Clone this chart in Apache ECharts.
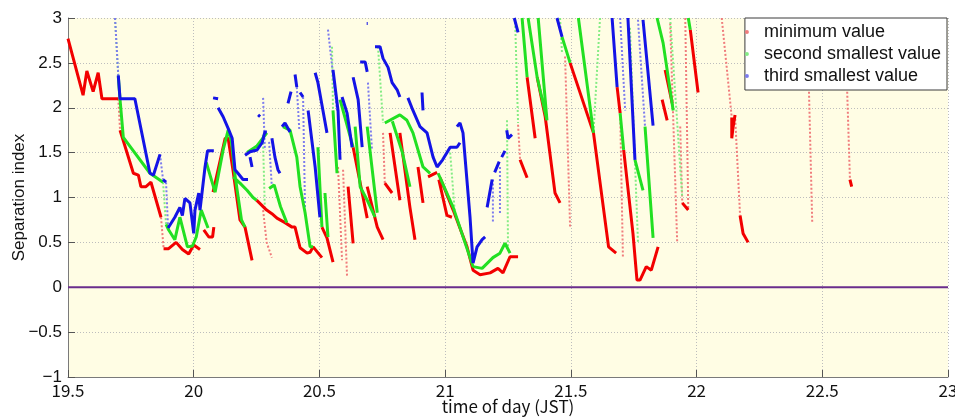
<!DOCTYPE html>
<html>
<head>
<meta charset="utf-8">
<script src="https://cdn.jsdelivr.net/npm/echarts@6/dist/echarts.min.js"></script>
<style>
  html, body { margin: 0; padding: 0; background: #fff; }
  #chart { width: 955px; height: 418px; }
</style>
</head>
<body>
<div id="chart"></div>
<script>
// x: time of day (JST), y: separation index
const seriesNames = ['minimum value', 'second smallest value', 'third smallest value']
const xTicks = [19.5, 20, 20.5, 21, 21.5, 22, 22.5, 23]
const yTicks = [-1, -0.5, 0, 0.5, 1, 1.5, 2, 2.5, 3]
const zeroLine = [[19.5, 0], [23, 0]]

/* minimum value: dense parts */
const minLines = [
  [[19.50, 2.77], [19.56, 2.14], [19.575, 2.41], [19.60, 2.18], [19.62, 2.39], [19.635, 2.10], [19.70, 2.10]],
  [[19.707, 1.75], [19.76, 1.27], [19.78, 1.25], [19.79, 1.12], [19.81, 1.12], [19.83, 1.17], [19.87, 0.78]],
  [[19.88, 0.43], [19.90, 0.43], [19.93, 0.50], [19.955, 0.42], [19.98, 0.37], [20.0, 0.47], [20.025, 0.42]],
  [[20.04, 0.64], [20.06, 0.56], [20.075, 0.56], [20.08, 0.67]],
  [[20.077, 1.06], [20.125, 1.66], [20.137, 1.66], [20.156, 1.31], [20.184, 0.75], [20.204, 0.67], [20.232, 0.30]],
  [[20.25, 0.97], [20.29, 0.86], [20.311, 0.82], [20.331, 0.77], [20.363, 0.72], [20.391, 0.67], [20.403, 0.67],
   [20.423, 0.44], [20.451, 0.38], [20.463, 0.39], [20.475, 0.45], [20.51, 0.33]],
  [[20.51, 0.67], [20.53, 0.55], [20.554, 0.28]],
  [[20.614, 1.12], [20.634, 0.49]],
  [[20.634, 1.56], [20.67, 1.05], [20.69, 0.77]],
  [[20.69, 1.12], [20.73, 0.67], [20.753, 0.53]],
  [[20.76, 1.16], [20.789, 1.05]],
  [[20.781, 1.72], [20.82, 0.97]],
  [[20.82, 1.72], [20.86, 0.89], [20.88, 0.53]],
  [[20.892, 1.34], [20.912, 0.94]],
  [[20.932, 1.23], [20.968, 1.28]],
  [[20.975, 1.20], [20.995, 0.95], [21.007, 0.80], [21.027, 0.78]],
  [[20.98, 1.22], [21.032, 0.86], [21.087, 0.45], [21.111, 0.19], [21.139, 0.14], [21.179, 0.16],
   [21.21, 0.21], [21.23, 0.16], [21.258, 0.34], [21.29, 0.34]],
  [[21.298, 1.42], [21.326, 1.22]],
  [[21.326, 2.34], [21.358, 1.66]],
  [[21.366, 2.34], [21.398, 1.90], [21.437, 1.05], [21.457, 0.94]],
  [[21.497, 2.50], [21.59, 1.72], [21.65, 0.45], [21.68, 0.38]],
  [[21.684, 2.23], [21.696, 1.94]],
  [[21.71, 1.53], [21.747, 0.60], [21.763, 0.08], [21.775, 0.08], [21.80, 0.23], [21.82, 0.19], [21.847, 0.45]],
  [[21.863, 2.09], [21.883, 1.86]],
  [[21.875, 2.42], [21.903, 2.05]],
  [[21.943, 0.94], [21.967, 0.86]],
  [[21.975, 2.87], [22.006, 2.17]],
  [[22.14, 1.89], [22.14, 1.66], [22.145, 1.78], [22.153, 1.92]],
  [[22.173, 0.80], [22.185, 0.60], [22.205, 0.50]],
  [[22.61, 1.20], [22.617, 1.12]]
]
/* minimum value: sparse parts */
const minSparse = [
  [[19.70, 2.10], [19.707, 1.75]],
  [[19.87, 0.78], [19.88, 0.44]],
  [[20.276, 0.86], [20.29, 0.50], [20.311, 0.33]],
  [[20.574, 1.34], [20.59, 0.30]],
  [[20.594, 1.31], [20.61, 0.11]],
  [[20.753, 1.72], [20.76, 1.16]],
  [[21.29, 1.81], [21.298, 1.42]],
  [[21.477, 2.57], [21.497, 0.67]],
  [[21.696, 1.97], [21.707, 0.34]],
  [[21.895, 2.94], [21.923, 0.49]],
  [[21.935, 1.79], [21.943, 0.94]],
  [[21.955, 3.0], [21.967, 0.86]],
  [[22.10, 3.0], [22.14, 1.89]],
  [[22.153, 1.92], [22.173, 0.80]],
  [[22.44, 2.98], [22.46, 0.72]],
  [[22.59, 2.98], [22.61, 1.20]]
]

/* second smallest value */
const secondLines = [
  [[19.70, 2.35], [19.707, 2.09], [19.72, 1.67], [19.826, 1.27], [19.878, 1.17]],
  [[19.89, 0.70], [19.90, 0.64], [19.925, 0.53], [19.945, 0.78], [19.975, 0.45], [19.995, 0.46],
   [20.01, 0.56], [20.03, 0.86], [20.057, 0.66]],
  [[20.05, 1.39], [20.085, 1.06], [20.117, 1.53], [20.137, 1.75], [20.15, 1.62], [20.164, 1.25],
   [20.19, 0.75], [20.204, 0.67]],
  [[20.157, 1.23], [20.184, 1.16], [20.212, 1.08], [20.236, 1.0], [20.25, 0.97]],
  [[20.212, 1.50], [20.25, 1.57], [20.291, 1.72]],
  [[20.30, 1.10], [20.32, 1.14], [20.345, 0.90], [20.37, 0.72]],
  [[20.355, 1.79], [20.383, 1.75], [20.41, 1.45], [20.423, 1.12], [20.443, 0.83], [20.463, 0.45], [20.475, 0.45]],
  [[20.494, 1.56], [20.51, 0.67]],
  [[20.522, 1.05], [20.534, 0.56]],
  [[20.554, 1.97], [20.57, 1.27]],
  [[20.582, 2.09], [20.634, 1.56]],
  [[20.642, 1.79], [20.662, 1.12], [20.69, 0.97], [20.721, 0.78]],
  [[20.69, 1.79], [20.73, 0.83]],
  [[20.76, 1.83], [20.82, 1.92], [20.848, 1.86], [20.872, 1.72], [20.912, 1.34], [20.94, 1.27]],
  [[20.79, 1.85], [20.83, 1.50], [20.86, 1.12]],
  [[20.972, 1.27], [21.032, 0.89], [21.111, 0.23], [21.147, 0.21], [21.19, 0.33], [21.218, 0.38],
   [21.238, 0.49], [21.258, 0.38]],
  [[21.306, 3.0], [21.326, 2.34]],
  [[21.33, 3.0], [21.366, 2.34], [21.405, 1.86]],
  [[21.37, 3.0], [21.405, 1.86]],
  [[21.465, 2.79], [21.497, 2.50]],
  [[21.53, 3.0], [21.59, 1.72]],
  [[21.696, 1.94], [21.71, 1.53]],
  [[21.755, 1.42], [21.787, 1.08]],
  [[21.795, 1.79], [21.827, 0.55]],
  [[21.843, 3.0], [21.867, 2.72], [21.907, 1.97]],
  [[21.967, 3.0], [21.975, 2.87]]
]
const secondSparse = [
  [[19.687, 3.0], [19.70, 2.35]],
  [[19.878, 1.17], [19.89, 0.70]],
  [[20.275, 1.70], [20.283, 0.86]],
  [[20.55, 2.68], [20.554, 1.97]],
  [[20.733, 2.68], [20.753, 1.83]],
  [[21.02, 1.50], [21.04, 0.78]],
  [[21.246, 1.86], [21.25, 0.44]],
  [[21.278, 3.0], [21.29, 1.83]],
  [[21.457, 3.0], [21.465, 2.6]],
  [[21.616, 3.0], [21.59, 1.72]],
  [[21.735, 2.89], [21.767, 0.50]],
  [[21.895, 3.0], [21.943, 1.0]]
]

/* third smallest value */
const thirdLines = [
  [[19.70, 2.36], [19.707, 2.10], [19.766, 2.10], [19.826, 1.27], [19.84, 1.25], [19.866, 1.48]],
  [[19.878, 1.20], [19.89, 1.17]],
  [[19.898, 0.66], [19.925, 0.78], [19.945, 0.89], [19.955, 0.80], [19.965, 0.99], [19.985, 0.94],
   [20.0, 0.60], [20.005, 0.86], [20.02, 1.05], [20.025, 0.86], [20.045, 1.34], [20.055, 1.52], [20.08, 1.52]],
  [[20.077, 2.11], [20.097, 2.10]],
  [[20.097, 2.0], [20.117, 1.90], [20.137, 1.77], [20.153, 1.66], [20.164, 1.31], [20.176, 1.27],
   [20.196, 1.20], [20.216, 1.20]],
  [[20.204, 1.47], [20.224, 1.51], [20.252, 1.53], [20.272, 1.61], [20.283, 1.73], [20.291, 1.73]],
  [[20.224, 1.45], [20.232, 1.34]],
  [[20.256, 1.92], [20.264, 1.90]],
  [[20.311, 1.66], [20.323, 1.45], [20.335, 1.31], [20.343, 1.27]],
  [[20.351, 1.79], [20.363, 1.83], [20.383, 1.73]],
  [[20.375, 2.05], [20.387, 2.18]],
  [[20.403, 2.37], [20.41, 2.23]],
  [[20.423, 2.17], [20.435, 2.12]],
  [[20.455, 1.97], [20.483, 1.34], [20.502, 0.78]],
  [[20.483, 2.39], [20.494, 2.28], [20.514, 1.97], [20.53, 1.72]],
  [[20.554, 2.42], [20.574, 1.97], [20.582, 1.42]],
  [[20.59, 2.12], [20.61, 1.94], [20.63, 1.56]],
  [[20.634, 2.34], [20.654, 2.09], [20.67, 1.56]],
  [[20.662, 2.51], [20.682, 2.51], [20.69, 2.40]],
  [[20.688, 2.94], [20.692, 2.94]],
  [[20.721, 2.68], [20.741, 2.68], [20.753, 2.55], [20.773, 2.45], [20.789, 2.28], [20.809, 2.20], [20.82, 2.12]],
  [[20.852, 2.11], [20.872, 1.97], [20.90, 1.79], [20.928, 1.72], [20.952, 1.45], [20.968, 1.34],
   [20.99, 1.42], [21.02, 1.56], [21.047, 1.56], [21.059, 1.61]],
  [[20.908, 2.17], [20.912, 1.97]],
  [[21.047, 1.79], [21.059, 1.83], [21.071, 1.72], [21.099, 0.78], [21.111, 0.27], [21.127, 0.45],
   [21.147, 0.53], [21.159, 0.56]],
  [[21.167, 0.89], [21.187, 1.20]],
  [[21.197, 1.28], [21.215, 1.40]],
  [[21.225, 1.45], [21.238, 1.52]],
  [[21.245, 1.75], [21.25, 1.66], [21.266, 1.70]],
  [[21.275, 3.0], [21.29, 2.84]],
  [[21.445, 3.0], [21.465, 2.79]],
  [[21.664, 3.0], [21.684, 2.23]],
  [[21.727, 3.0], [21.755, 1.42]],
  [[21.787, 2.98], [21.827, 1.80]]
]
const thirdSparse = [
  [[19.687, 3.0], [19.70, 2.36]],
  [[19.866, 1.48], [19.878, 1.20]],
  [[19.89, 1.17], [19.898, 0.66]],
  [[20.276, 2.11], [20.283, 1.53]],
  [[20.30, 1.62], [20.31, 1.15]],
  [[20.41, 2.23], [20.42, 1.75]],
  [[20.435, 2.12], [20.443, 0.83]],
  [[20.534, 2.87], [20.57, 1.97]],
  [[20.693, 2.28], [20.709, 1.53]],
  [[21.19, 1.20], [21.19, 0.71]],
  [[21.218, 1.34], [21.218, 0.82]],
  [[21.696, 3.0], [21.716, 1.97]],
  [[21.767, 2.98], [21.795, 1.79]]
]

const colors = {
  min: '#f20000',
  second: '#22e022',
  third: '#1414e6',
  minPale: '#f07c7c',
  secondPale: '#84ec84',
  thirdPale: '#7c7cee'
}

const gothicFont = 'Noto Sans CJK JP, Noto Sans, sans-serif'
const arialFont = 'Liberation Sans, Arial, sans-serif'

// 把多段线拼接成一组数据，段与段之间用空点断开
function joinSegments(segments) {
  const out = []
  segments.forEach((seg, i) => {
    if (i > 0) out.push([null, null])
    seg.forEach(p => out.push(p))
  })
  return out
}

function lineSeries(name, data, color, width, type) {
  return {
    name: name,
    type: 'line',
    data: joinSegments(data),
    showSymbol: false,
    connectNulls: false,
    silent: true,
    lineStyle: { color: color, width: width, type: type },
    itemStyle: { color: color }
  }
}

const chart = echarts.init(document.getElementById('chart'))
chart.setOption({
  animation: false,
  backgroundColor: '#ffffff',
  grid: {
    left: 68,
    right: 7,
    top: 18,
    bottom: 41,
    containLabel: false,
    outerBoundsMode: 'none',
    show: true,
    backgroundColor: '#fffde4',
    borderWidth: 0
  },
  legend: {
    orient: 'vertical',
    right: 8,
    top: 18,
    padding: [5, 6, 5, 0],
    itemGap: 4,
    itemWidth: 24,
    itemHeight: 4,
    icon: 'circle',
    backgroundColor: '#ffffff',
    borderColor: '#3a3a3a',
    borderWidth: 1,
    borderRadius: 0,
    textStyle: { fontFamily: arialFont, fontSize: 18, color: '#111' },
    data: [
      { name: seriesNames[0], itemStyle: { color: colors.minPale } },
      { name: seriesNames[1], itemStyle: { color: colors.secondPale } },
      { name: seriesNames[2], itemStyle: { color: colors.thirdPale } }
    ]
  },
  xAxis: {
    type: 'value',
    min: xTicks[0],
    max: xTicks[xTicks.length - 1],
    interval: 0.5,
    name: 'time of day (JST)',
    nameLocation: 'middle',
    nameGap: 21,
    nameMoveOverlap: false,
    nameTextStyle: { fontFamily: gothicFont, fontSize: 17, color: '#111' },
    axisLine: { show: true, onZero: false, lineStyle: { color: '#7a7a7a', width: 1 } },
    axisTick: { show: true, inside: true, length: 7, lineStyle: { color: '#555' } },
    axisLabel: {
      fontFamily: gothicFont,
      fontSize: 17,
      color: '#111',
      margin: 5
    },
    splitLine: { show: true, lineStyle: { color: '#bdbdbd', type: [1, 2], width: 1 } }
  },
  yAxis: {
    type: 'value',
    min: yTicks[0],
    max: yTicks[yTicks.length - 1],
    interval: 0.5,
    name: 'Separation index',
    nameLocation: 'middle',
    nameGap: 40,
    nameMoveOverlap: false,
    nameTextStyle: { fontFamily: arialFont, fontSize: 17, color: '#111' },
    axisLine: { show: true, lineStyle: { color: '#7a7a7a', width: 1 } },
    axisTick: { show: true, inside: true, length: 7, lineStyle: { color: '#555' } },
    axisLabel: {
      fontFamily: arialFont,
      fontSize: 17,
      color: '#111',
      margin: 6,
      formatter: v => String(v).replace('-', '\u2212')
    },
    splitLine: { show: true, lineStyle: { color: '#bdbdbd', type: [1, 2], width: 1 } }
  },
  series: [
    lineSeries('minSparse', minSparse, colors.minPale, 2, 'dotted'),
    lineSeries('secondSparse', secondSparse, colors.secondPale, 2, 'dotted'),
    lineSeries('thirdSparse', thirdSparse, colors.thirdPale, 2, 'dotted'),
    lineSeries(seriesNames[0], minLines, colors.min, 3, 'solid'),
    lineSeries(seriesNames[1], secondLines, colors.second, 3, 'solid'),
    lineSeries(seriesNames[2], thirdLines, colors.third, 3, 'solid'),
    {
      name: 'zero',
      type: 'line',
      data: zeroLine,
      showSymbol: false,
      silent: true,
      lineStyle: { color: '#6a2d8c', width: 2 }
    }
  ]
})
</script>
</body>
</html>
